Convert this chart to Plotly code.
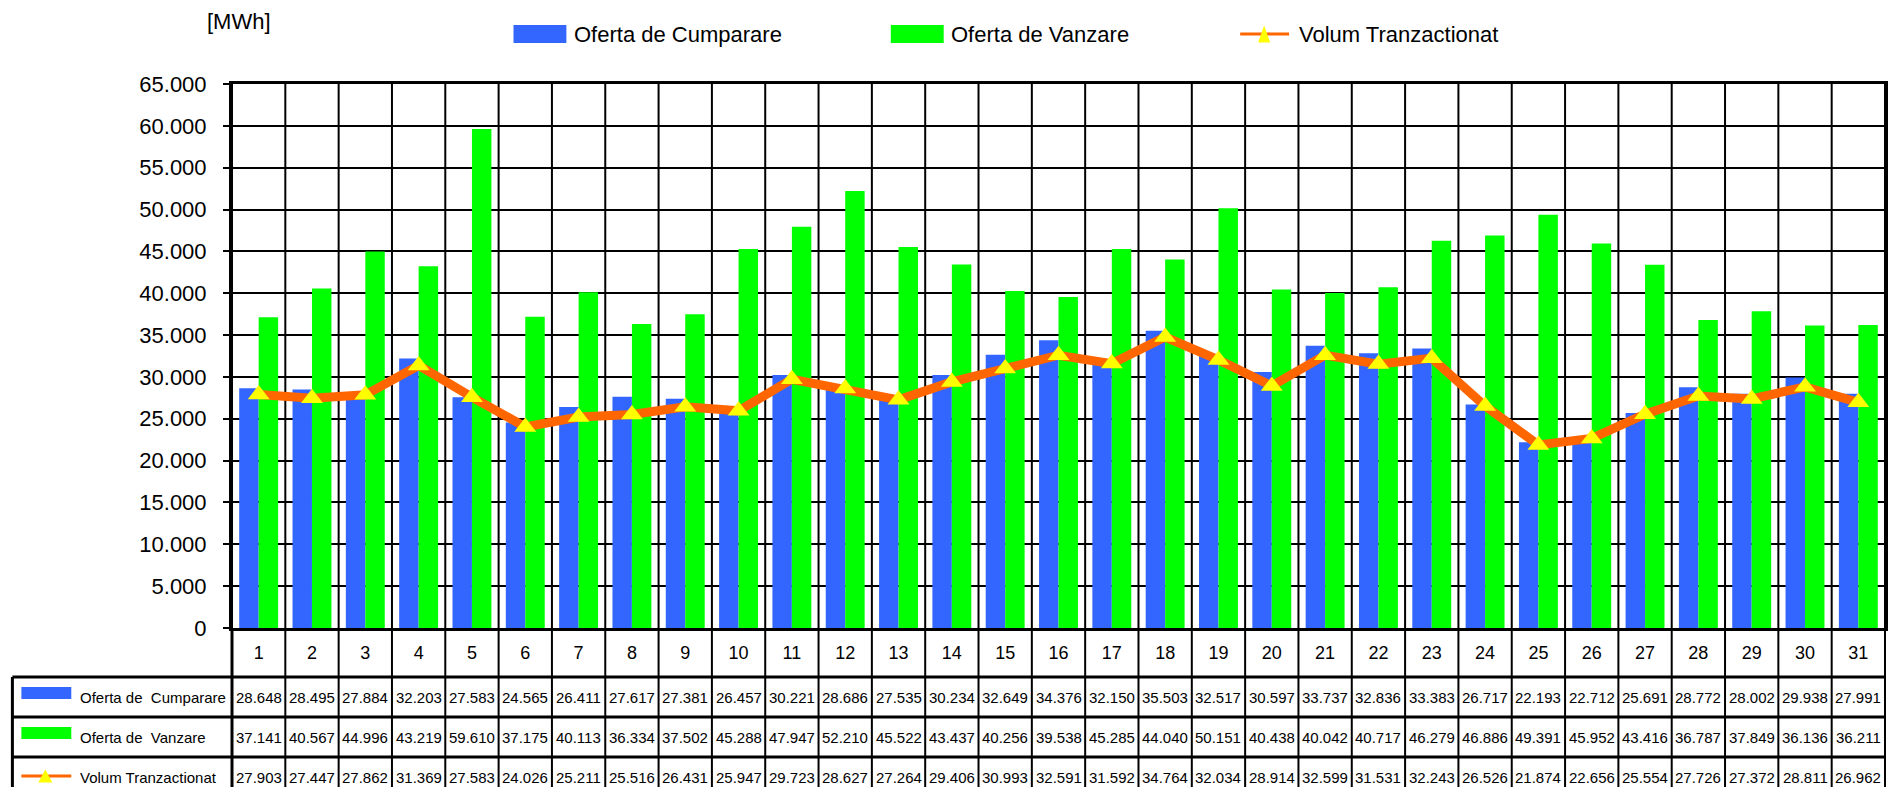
import plotly.graph_objects as go

# ---------------- data ----------------
days = [str(i) for i in range(1, 32)]
day_pos = list(range(1, 32))
cumparare = [28648, 28495, 27884, 32203, 27583, 24565, 26411, 27617, 27381, 26457,
             30221, 28686, 27535, 30234, 32649, 34376, 32150, 35503, 32517, 30597,
             33737, 32836, 33383, 26717, 22193, 22712, 25691, 28772, 28002, 29938, 27991]
vanzare = [37141, 40567, 44996, 43219, 59610, 37175, 40113, 36334, 37502, 45288,
           47947, 52210, 45522, 43437, 40256, 39538, 45285, 44040, 50151, 40438,
           40042, 40717, 46279, 46886, 49391, 45952, 43416, 36787, 37849, 36136, 36211]
volum = [27903, 27447, 27862, 31369, 27583, 24026, 25211, 25516, 26431, 25947,
         29723, 28627, 27264, 29406, 30993, 32591, 31592, 34764, 32034, 28914,
         32599, 31531, 32243, 26526, 21874, 22656, 25554, 27726, 27372, 28811, 26962]
series_names = ["Oferta de Cumparare", "Oferta de Vanzare", "Volum Tranzactionat"]
table_labels = ["Oferta de  Cumparare", "Oferta de  Vanzare", "Volum Tranzactionat"]

BLUE = "#3366FF"
GREEN = "#00FF00"
ORANGE = "#FF6600"
YELLOW = "#FFFF00"
FONT = "Liberation Sans, Arial, sans-serif"

# figure fits inside the window with the page's default 8px body margin
W, H = 1887, 779
L, R, T, B = 224, 7, 76, 159
PW, PH = W - L - R, H - T - B   # 1656 x 544


def px2x(px):
    # page pixel -> paper x
    return (px - 232) / PW


def py2y(py):
    # page pixel -> paper y
    return (628 - py) / PH


def fmt(v):
    return f"{v:,}".replace(",", ".")


fig = go.Figure()
fig.add_trace(go.Bar(x=day_pos, y=cumparare, name=series_names[0],
                     marker=dict(color=BLUE, line=dict(width=0))))
fig.add_trace(go.Bar(x=day_pos, y=vanzare, name=series_names[1],
                     marker=dict(color=GREEN, line=dict(width=0))))
fig.add_trace(go.Scatter(x=day_pos, y=volum, name=series_names[2], mode="lines+markers",
                         line=dict(color=ORANGE, width=9),
                         marker=dict(symbol="triangle-up", size=19, color=YELLOW,
                                     line=dict(width=0))))

shapes = []
annotations = []

# vertical category boundaries (plot + table)
n = len(days)
for k in range(n + 1):
    shapes.append(dict(type="line", xref="paper", yref="paper",
                       x0=k / n, x1=k / n, y0=py2y(800), y1=1,
                       line=dict(color="black", width=2), layer="below"))

# table horizontal lines
for py in [677, 717, 757]:
    shapes.append(dict(type="line", xref="paper", yref="paper",
                       x0=px2x(12), x1=1, y0=py2y(py), y1=py2y(py),
                       line=dict(color="black", width=3)))
# table left borders
shapes.append(dict(type="line", xref="paper", yref="paper",
                   x0=px2x(12), x1=px2x(12), y0=py2y(677), y1=py2y(800),
                   line=dict(color="black", width=3)))
shapes.append(dict(type="line", xref="paper", yref="paper",
                   x0=0, x1=0, y0=py2y(628), y1=py2y(800),
                   line=dict(color="black", width=3)))


def tri_path(cx, cy, w, h):
    pts = [(cx - w / 2, cy + h / 2), (cx + w / 2, cy + h / 2), (cx, cy - h / 2)]
    return "M " + " L ".join(f"{px2x(a)},{py2y(b)}" for a, b in pts) + " Z"


# table keys
row_centers = [697, 737, 777]
shapes.append(dict(type="rect", xref="paper", yref="paper",
                   x0=px2x(21), x1=px2x(71), y0=py2y(699), y1=py2y(687),
                   fillcolor=BLUE, line=dict(width=0)))
shapes.append(dict(type="rect", xref="paper", yref="paper",
                   x0=px2x(21), x1=px2x(71), y0=py2y(739), y1=py2y(727),
                   fillcolor=GREEN, line=dict(width=0)))
shapes.append(dict(type="line", xref="paper", yref="paper",
                   x0=px2x(21), x1=px2x(71), y0=py2y(776), y1=py2y(776),
                   line=dict(color=ORANGE, width=3)))
shapes.append(dict(type="path", xref="paper", yref="paper",
                   path=tri_path(45, 776, 14, 13), fillcolor=YELLOW, line=dict(width=0)))

for lab, cy in zip(table_labels, row_centers):
    annotations.append(dict(text=lab, xref="paper", yref="paper", x=px2x(78), y=py2y(cy),
                            xanchor="left", yanchor="middle", showarrow=False,
                            font=dict(family=FONT, size=15, color="black")))

for vals, cy in zip([cumparare, vanzare, volum], row_centers):
    for xv, v in zip(day_pos, vals):
        annotations.append(dict(text=fmt(v), xref="x", yref="paper", x=xv, y=py2y(cy),
                                xanchor="center", yanchor="middle", showarrow=False,
                                font=dict(family=FONT, size=15, color="black")))

# top legend (manual)
leg_y = 34
shapes.append(dict(type="rect", xref="paper", yref="paper",
                   x0=px2x(514), x1=px2x(567), y0=py2y(43), y1=py2y(25),
                   fillcolor=BLUE, line=dict(width=0)))
shapes.append(dict(type="rect", xref="paper", yref="paper",
                   x0=px2x(892), x1=px2x(945), y0=py2y(43), y1=py2y(25),
                   fillcolor=GREEN, line=dict(width=0)))
shapes.append(dict(type="line", xref="paper", yref="paper",
                   x0=px2x(1242), x1=px2x(1291), y0=py2y(leg_y), y1=py2y(leg_y),
                   line=dict(color=ORANGE, width=3)))
shapes.append(dict(type="path", xref="paper", yref="paper",
                   path=tri_path(1266, leg_y, 12, 17), fillcolor=YELLOW, line=dict(width=0)))
for name, px in zip(series_names, [573, 950, 1299]):
    annotations.append(dict(text=name, xref="paper", yref="paper", x=px2x(px), y=py2y(leg_y),
                            xanchor="left", yanchor="middle", showarrow=False,
                            font=dict(family=FONT, size=22, color="black")))

annotations.append(dict(text="[MWh]", xref="paper", yref="paper", x=px2x(239), y=py2y(22),
                        xanchor="center", yanchor="middle", showarrow=False,
                        font=dict(family=FONT, size=22, color="black")))

fig.update_layout(
    width=W, height=H,
    margin=dict(l=L, r=R, t=T, b=B, pad=0),
    paper_bgcolor="white", plot_bgcolor="white",
    barmode="group", bargap=0.27, bargroupgap=0,
    showlegend=False,
    separators=",.",
    shapes=shapes, annotations=annotations,
    font=dict(family=FONT, color="black"),
)
fig.update_xaxes(type="linear", range=[0.5, 31.5], tickmode="array", tickvals=day_pos,
                 ticktext=days, showgrid=False, zeroline=False, showline=True, mirror=True,
                 linecolor="black", linewidth=3, ticks="", ticklabelstandoff=6,
                 tickfont=dict(family=FONT, size=18, color="black"))
fig.update_yaxes(range=[0, 65000], tick0=0, dtick=5000, tickformat=",d",
                 showgrid=True, gridcolor="black", gridwidth=2, zeroline=False,
                 showline=True, mirror=True, linecolor="black", linewidth=3,
                 ticks="outside", ticklen=6, tickwidth=2, tickcolor="black",
                 ticklabelstandoff=12,
                 tickfont=dict(family=FONT, size=22, color="black"))

fig.write_html("out.html")
